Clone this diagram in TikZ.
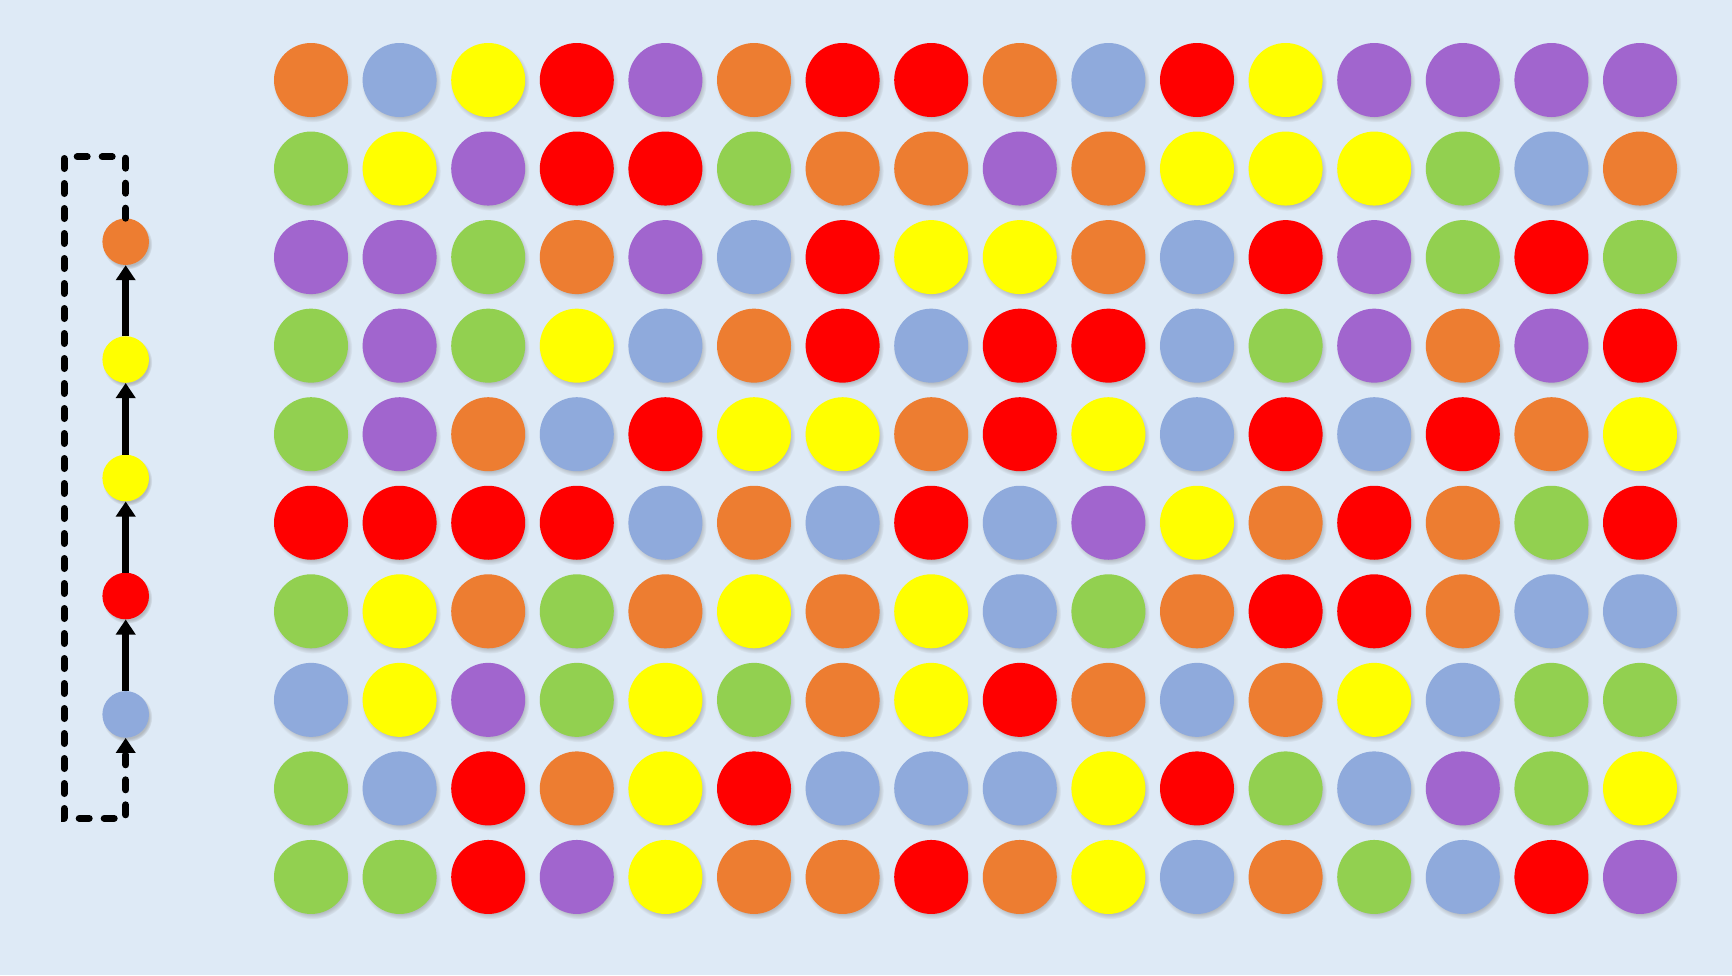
\documentclass[tikz,border=0pt]{standalone}
\usepackage{tikz}
\usetikzlibrary{arrows.meta,shadows,fadings}

\definecolor{bgpanel}{RGB}{222,234,246}
\definecolor{dotO}{RGB}{237,125,49}
\definecolor{dotB}{RGB}{143,170,220}
\definecolor{dotY}{RGB}{255,255,0}
\definecolor{dotR}{RGB}{255,0,0}
\definecolor{dotP}{RGB}{161,101,206}
\definecolor{dotG}{RGB}{146,208,80}

\tikzset{
  dot/.style={circle,inner sep=0pt,minimum size=#1,draw=none,
    circular drop shadow={shadow xshift=1.5pt,shadow yshift=-2.5pt,shadow scale=1.07,opacity=0.45}},
  dot/.default=74pt,
  link/.style={line width=7pt,-{Triangle[width=19pt,length=15pt]}},
  loopback/.style={line width=7pt,line cap=round,dash pattern=on 10pt off 15pt,
    -{Triangle[width=19pt,length=15pt]}},
}

\begin{document}
\begin{tikzpicture}[x=1pt,y=1pt,yscale=-1,xscale=1]
%Shape: Rectangle (background)
\fill[bgpanel] (0,0) rectangle (1732,975);
\useasboundingbox (0,0) rectangle (1732,975);

%Shape: Circles (chain on the left)
\node[dot=46.6pt,fill=dotB] (s1) at (125.7,714.4) {};
\node[dot=46.6pt,fill=dotR] (s2) at (125.7,596) {};
\node[dot=46.6pt,fill=dotY] (s3) at (125.7,478) {};
\node[dot=46.6pt,fill=dotY] (s4) at (125.7,359.5) {};
\node[dot=46.6pt,fill=dotO] (s5) at (125.7,241.7) {};

%Straight Lines (arrows of the chain)
\draw[link] (s1) -- (s2);
\draw[link] (s2) -- (s3);
\draw[link] (s3) -- (s4);
\draw[link] (s4) -- (s5);

%Dashed loop back to the first circle
\coordinate (lt) at (64,156.7);
\coordinate (lb) at (64,818.3);
\draw[loopback] (s5.north) |- (lt) -- (lb) -| (s1.south);

%Shape: Circles (grid, 10 rows x 16 columns)
\foreach \row [count=\r] in {
  {O,B,Y,R,P,O,R,R,O,B,R,Y,P,P,P,P},
  {G,Y,P,R,R,G,O,O,P,O,Y,Y,Y,G,B,O},
  {P,P,G,O,P,B,R,Y,Y,O,B,R,P,G,R,G},
  {G,P,G,Y,B,O,R,B,R,R,B,G,P,O,P,R},
  {G,P,O,B,R,Y,Y,O,R,Y,B,R,B,R,O,Y},
  {R,R,R,R,B,O,B,R,B,P,Y,O,R,O,G,R},
  {G,Y,O,G,O,Y,O,Y,B,G,O,R,R,O,B,B},
  {B,Y,P,G,Y,G,O,Y,R,O,B,O,Y,B,G,G},
  {G,B,R,O,Y,R,B,B,B,Y,R,G,B,P,G,Y},
  {G,G,R,P,Y,O,O,R,O,Y,B,O,G,B,R,P}}{
  \foreach \c [count=\k] in \row
    \node[dot,fill=dot\c] (g\r-\k) at ({311+88.6*(\k-1)},{80+88.55*(\r-1)}) {};
}
\end{tikzpicture}
\end{document}
